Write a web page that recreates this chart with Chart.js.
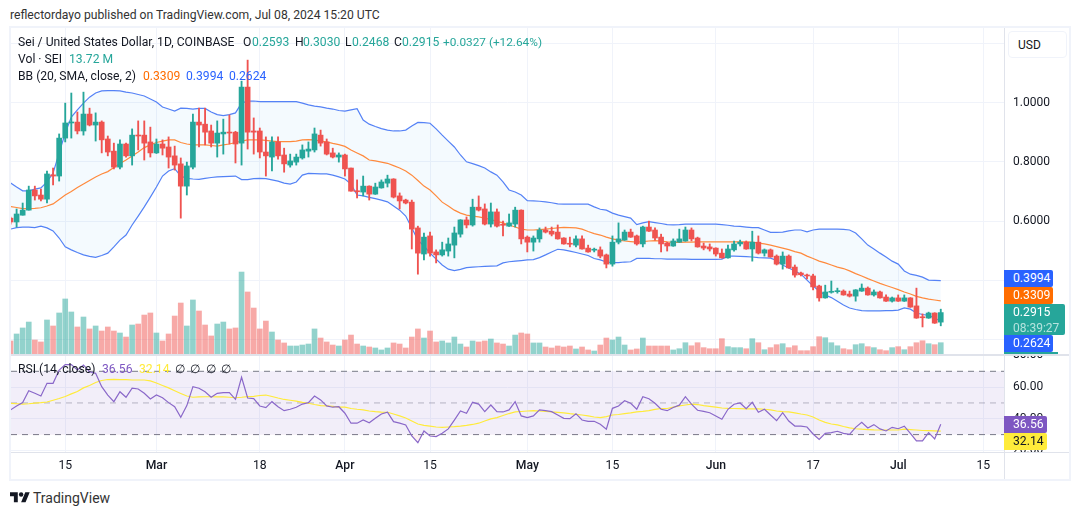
<!DOCTYPE html>
<html>
<head>
<meta charset="utf-8">
<title>SEI / USD</title>
<script src="https://cdn.jsdelivr.net/npm/chart.js@4"></script>
<style>
  html, body { margin: 0; padding: 0; background: #fff; width: 1080px; height: 515px; overflow: hidden; }
  body { font-family: Roboto, sans-serif; color: #131722; }
  .abs { position: absolute; white-space: nowrap; }
  canvas { position: absolute; display: block; }
  .txt { position: absolute; white-space: nowrap; font-size: 12.15px; line-height: 14px; }
  .tag { position: absolute; left: 1004px; width: 49px; height: 17px; line-height: 17px; font-size: 12.2px; color: #fff; text-align: left; text-indent: 9px; border-radius: 0 2px 2px 0; }
</style>
</head>
<body>
<div class="txt" style="left:10px;top:8px;font-size:12.17px;color:#333">reflectordayo published on TradingView.com, Jul 08, 2024 15:20 UTC</div>

<div class="abs" style="left:9px;top:26px;width:1058px;height:451px;border:2px solid #f0f3fa"></div>
<canvas id="pricePane" width="1058" height="326" style="left:11px;top:28px"></canvas>
<canvas id="rsiPane" width="1058" height="124" style="left:11px;top:355px"></canvas>

<!-- axis separators -->
<div class="abs" style="left:11px;top:354px;width:1058px;height:1.5px;background:#e0e3eb"></div>
<div class="abs" style="left:1005px;top:452.5px;width:64px;height:26px;background:#fff"></div>
<div class="abs" style="left:11px;top:452px;width:1058px;height:1px;background:#e0e3eb"></div>
<div class="abs" style="left:1004px;top:28px;width:1px;height:451px;background:#e0e3eb"></div>

<!-- currency button -->
<div class="txt" style="left:1008px;top:31px;width:57px;height:25px;background:#fff;border:1px solid #f0f3fa;border-radius:4px;line-height:26px;text-indent:9px;font-size:12px">USD</div>

<!-- legend -->
<div id="legend"></div>

<!-- last value tags -->
<div id="tags"></div>

<!-- footer -->
<svg class="abs" style="left:10px;top:492px" width="20" height="11" viewBox="0 0 36 18.5"><path fill="#131722" d="M14 18H7V7H0V0h14v18zM28 18h-8L27.5 0h8L28 18z"/><circle fill="#131722" cx="20" cy="4" r="4"/></svg>
<div class="txt" style="left:33px;top:490px;font-size:14px;line-height:16px;color:#333">TradingView</div>

<script>
// Daily SEI/USD candles, first session Feb 6 2024, last session Jul 8 2024
const opens = [
  .610,.597,.620,.637,.705,.688,.674,.756,.752,.880,
  .931,.934,.904,.961,.924,.934,.877,.836,.782,.860,
  .820,.890,.890,.867,.830,.860,.850,.820,.793,.718,
  .782,.934,.927,.904,.863,.894,.900,.900,.863,1.052,
  .904,.904,.833,.816,.867,.823,.789,.799,.813,.836,
  .840,.890,.867,.830,.816,.823,.779,.702,.698,.718,
  .691,.712,.728,.742,.685,.671,.664,.577,.489,.550,
  .496,.486,.499,.519,.556,.604,.587,.647,.641,.590,
  .631,.588,.583,.590,.637,.546,.529,.540,.570,.566,
  .563,.543,.524,.519,.540,.509,.502,.503,.486,.455,
  .529,.536,.563,.550,.523,.580,.570,.546,.526,.516,
  .529,.533,.570,.543,.516,.513,.509,.492,.476,.503,
  .523,.529,.506,.529,.492,.503,.482,.455,.482,.445,
  .425,.418,.415,.381,.341,.360,.362,.364,.354,.347,
  .364,.374,.351,.361,.344,.330,.341,.330,.341,.314,
  .276,.273,.290,.2593];
const highs = [
  .614,.641,.661,.718,.718,.708,.769,.779,.894,.998,
  1.032,.968,1.035,.981,.965,.938,.887,.863,.874,.863,
  .911,.938,.938,.917,.877,.874,.884,.853,.813,.799,
  .961,.981,.981,.924,.938,.944,.958,.903,1.072,1.143,
  .948,.914,.884,.884,.884,.846,.826,.826,.857,.867,
  .914,.907,.877,.846,.830,.826,.779,.739,.752,.719,
  .728,.739,.755,.743,.695,.674,.671,.583,.560,.563,
  .503,.529,.543,.580,.605,.614,.674,.685,.658,.661,
  .641,.600,.624,.647,.638,.550,.550,.577,.580,.580,
  .587,.544,.546,.550,.550,.519,.509,.513,.489,.550,
  .594,.570,.573,.553,.583,.600,.577,.556,.529,.540,
  .573,.580,.577,.546,.526,.523,.510,.506,.519,.533,
  .536,.533,.566,.550,.506,.506,.486,.496,.486,.452,
  .428,.421,.421,.384,.384,.398,.374,.368,.364,.369,
  .388,.378,.368,.364,.351,.344,.351,.351,.342,.374,
  .287,.293,.291,.3030];
const lows = [
  .590,.580,.620,.637,.671,.668,.661,.722,.735,.867,
  .880,.894,.890,.921,.870,.830,.820,.776,.776,.816,
  .789,.840,.806,.816,.828,.823,.779,.772,.610,.688,
  .776,.850,.857,.850,.816,.826,.860,.796,.789,.843,
  .826,.813,.752,.769,.809,.765,.782,.789,.809,.816,
  .833,.853,.823,.813,.799,.752,.701,.678,.685,.671,
  .690,.711,.715,.678,.641,.658,.506,.421,.469,.482,
  .459,.482,.482,.476,.546,.577,.583,.634,.587,.580,
  .580,.550,.582,.580,.523,.496,.499,.529,.560,.550,
  .539,.522,.513,.513,.505,.495,.496,.476,.442,.448,
  .523,.535,.545,.519,.513,.565,.536,.496,.499,.515,
  .528,.532,.533,.512,.503,.499,.482,.475,.475,.499,
  .516,.505,.465,.489,.482,.478,.452,.438,.441,.411,
  .415,.405,.368,.330,.340,.357,.357,.350,.344,.330,
  .363,.350,.347,.340,.329,.327,.329,.329,.309,.272,
  .243,.272,.255,.2468];
const closes = [
  .597,.624,.637,.705,.685,.674,.759,.752,.880,.931,
  .934,.904,.961,.924,.934,.874,.833,.782,.860,.820,
  .890,.887,.863,.830,.860,.846,.816,.789,.718,.786,
  .934,.924,.900,.863,.897,.900,.897,.860,1.052,.900,
  .900,.833,.820,.867,.820,.793,.803,.816,.840,.843,
  .894,.863,.826,.816,.823,.776,.701,.699,.718,.691,
  .715,.732,.742,.681,.668,.661,.573,.492,.546,.492,
  .486,.503,.523,.560,.604,.587,.647,.637,.590,.631,
  .583,.586,.594,.637,.540,.529,.543,.570,.563,.556,
  .540,.523,.522,.540,.506,.496,.504,.482,.455,.529,
  .540,.563,.546,.523,.580,.566,.543,.523,.516,.533,
  .540,.570,.540,.513,.509,.506,.489,.476,.506,.523,
  .529,.506,.529,.492,.503,.479,.455,.482,.442,.418,
  .419,.415,.378,.341,.361,.362,.364,.351,.347,.368,
  .374,.351,.361,.341,.330,.341,.330,.341,.310,.273,
  .274,.290,.256,.2915];

// Traded volume, millions of SEI
const volumes = [
  15.8,24.3,31.6,38.8,17,14.6,41.3,34,49.8,66.8,
  51,32.8,44.9,30.4,34,27.9,32.8,27.9,25.5,20.6,
  35.2,36.4,47.3,49.8,25.5,15.8,24.3,46.1,61.9,34,
  65.6,52.2,35.2,21.9,36.4,38.8,30.4,31.6,99.5,75.3,
  55.8,30.4,40,26.7,17,13.4,9.7,9.7,10.9,12.1,
  30.4,19.4,14.6,10.9,9.7,17,23,12.1,9.7,8.5,
  7.3,4.9,7.3,13.4,12.1,7.3,20.6,30.4,19.4,27.9,
  14.6,15.8,13.4,20.6,12.1,8.5,15.8,14.6,15.8,18.2,
  13.4,12.1,9.7,23,25.5,24.3,13.4,13.4,8.5,7.3,
  9.7,8.5,9.7,6.1,8.5,4.9,3.6,10.9,19.4,17,
  20.6,10.9,4.9,6.1,19.4,9.7,9.7,9.7,9.7,4.9,
  6.4,13.7,10,13.7,7.7,6.4,6.4,18.6,8.9,7.7,
  7.7,6.4,18.6,13.7,5.2,7.7,11.3,12.5,7.7,10,
  4,4,8.9,21,19.8,13.7,10,6.4,5.2,11.3,
  12.5,8.9,7.7,5.2,4,7.7,8.9,5.2,8.9,13.7,
  16.1,12.5,11.3,13.72];

// Bollinger bands (20, SMA, close, 2)
const bbUpper = [
  .729,.715,.702,.702,.708,.712,.732,.762,.830,.897,
  .951,.975,.998,1.018,1.032,1.039,1.040,1.040,1.039,1.035,
  1.032,1.027,1.022,1.012,1.002,.985,.978,.971,.981,.980,
  .978,.980,.980,.968,.959,.956,.959,.965,.998,1.005,
  1.005,1.003,1.003,1.003,1.003,1.003,1.003,1.003,.998,.992,
  .988,.985,.981,.978,.973,.971,.975,.979,.941,.927,
  .919,.912,.907,.904,.904,.907,.921,.933,.932,.930,
  .911,.890,.870,.850,.823,.800,.794,.787,.779,.766,
  .755,.732,.705,.698,.688,.669,.668,.667,.665,.662,
  .658,.657,.657,.657,.657,.657,.648,.640,.637,.627,
  .620,.615,.610,.588,.594,.598,.595,.592,.588,.587,
  .588,.590,.590,.590,.590,.590,.590,.588,.586,.583,
  .582,.580,.578,.578,.570,.562,.562,.563,.567,.570,
  .570,.564,.570,.573,.573,.573,.573,.572,.570,.560,
  .540,.519,.506,.492,.479,.465,.455,.432,.421,.417,
  .411,.401,.400,.3994];
const bbBasis = [
  .649,.646,.642,.642,.643,.645,.651,.658,.673,.688,
  .700,.713,.725,.737,.749,.759,.767,.781,.794,.806,
  .820,.833,.848,.857,.865,.870,.874,.874,.865,.860,
  .857,.857,.857,.855,.853,.857,.860,.865,.870,.874,
  .874,.874,.872,.870,.868,.868,.868,.870,.874,.875,
  .874,.870,.867,.862,.858,.852,.840,.830,.820,.806,
  .803,.799,.795,.787,.779,.769,.755,.737,.718,.705,
  .685,.664,.651,.637,.627,.620,.617,.614,.610,.605,
  .599,.594,.587,.580,.573,.570,.570,.571,.573,.575,
  .577,.579,.578,.577,.573,.565,.558,.553,.546,.540,
  .536,.533,.531,.529,.531,.533,.534,.533,.530,.528,
  .528,.529,.529,.530,.530,.530,.530,.530,.530,.530,
  .530,.530,.529,.526,.523,.519,.514,.509,.504,.497,
  .492,.482,.474,.465,.459,.452,.445,.440,.432,.423,
  .415,.406,.398,.390,.383,.376,.369,.361,.354,.346,
  .341,.337,.334,.3309];
const bbLower = [
  .573,.578,.580,.580,.578,.583,.577,.567,.543,.513,
  .503,.494,.486,.481,.478,.484,.492,.513,.536,.553,
  .587,.617,.648,.681,.715,.752,.769,.777,.752,.744,
  .742,.741,.744,.747,.749,.750,.751,.752,.740,.740,
  .743,.744,.743,.739,.735,.728,.725,.732,.755,.761,
  .760,.759,.759,.755,.749,.742,.725,.688,.685,.680,
  .676,.671,.665,.651,.637,.617,.577,.536,.516,.492,
  .472,.452,.438,.433,.437,.443,.445,.446,.447,.448,
  .449,.459,.463,.465,.467,.469,.470,.477,.486,.496,
  .505,.503,.499,.494,.489,.484,.474,.469,.462,.460,
  .460,.462,.463,.474,.474,.474,.473,.473,.472,.472,
  .472,.472,.471,.471,.471,.471,.471,.472,.482,.482,
  .481,.480,.479,.477,.476,.475,.467,.452,.442,.432,
  .421,.401,.381,.364,.351,.342,.330,.317,.307,.302,
  .298,.297,.297,.297,.298,.298,.300,.307,.303,.290,
  .285,.282,.273,.2624];

// RSI (14, close) and its moving average
const rsiValues = [
  45.6,48.1,50.2,57.7,56.1,54.4,62.4,62.4,70.8,74.2,
  74.2,70.8,74,69.7,68.7,60.3,55,50.8,57.1,53.6,
  59.3,58.8,56.1,52.5,55,53.3,50.2,47.6,40.9,48.3,
  60.3,59.3,57.1,53.6,56.1,56.5,56.5,52.3,66.2,53.1,
  52.7,48.1,47,50.8,47.6,45.1,46,47.3,49.3,50.2,
  54.4,51.9,48.1,47.3,47.6,43.5,37.2,37.2,39.2,37.5,
  40.3,43,44.1,38.2,37.2,36.1,29.1,24.9,32.3,29.1,
  28.7,30.8,33.6,39.2,44.9,43.5,50.4,49.3,44.5,48.7,
  44.5,44.3,45.6,50.8,41.8,40.7,41.8,45.6,45.1,44.5,
  42.4,40.3,40.1,43.2,39.2,38.4,38.4,36.5,33.4,46.6,
  48.1,51.4,49.8,46,54,52.7,49.8,46,45.1,47.1,
  48.6,54,49.3,45.4,44.7,43.8,41.8,39.7,46,49.2,
  50,46.4,50.4,44.1,46,42.4,38.8,43.8,38.6,35.4,
  35.3,34.8,30.4,27,30.8,31.2,32.1,30.8,30.2,34.6,
  37.8,34.2,36.3,33.6,32.3,34.6,33.7,35.3,30.8,26,
  26,31.2,27.2,36.56];
const rsiAverage = [
  49.8,49.5,49.2,49.5,49.9,50.2,50.6,51.7,52.8,54.1,
  55.7,57.2,59.5,61,62.9,64.2,64.8,64.9,64.8,64.7,
  64.5,64.5,64.5,63.9,62.6,61,59.5,57.7,56,54.4,
  53.6,53.8,53.9,53.9,53.8,53.8,53.6,53.3,53.6,54,
  54.2,54.7,55,54.1,53.1,52.2,51.7,51.2,50.4,49.8,
  49,48.3,48.1,47.8,47.4,47.3,46.5,46,45.6,44.9,
  44.5,44.2,44.1,43,41.8,40.5,38.6,36.7,35.8,35.4,
  34.8,34.6,34.8,35,35.3,35.8,36.4,37.2,38.6,39.9,
  40.7,42.1,43.3,44.3,44.6,44.9,45.1,44.9,44.6,44.3,
  44.1,43.7,43.2,42.8,42.4,41.8,41.1,40.7,41.4,42.4,
  42.7,43.2,43.7,44.3,44.7,45.2,45.9,46.5,46.5,47.4,
  48.1,48.7,49.3,49,48.3,47.8,47.3,46.8,46.6,46.5,
  46.4,46.3,46.2,46.2,46,45.6,44.9,44.5,44.3,43.7,
  43,42.4,41.1,39.2,37.7,36.7,36.1,35.1,34.2,33.7,
  33.4,33.2,33,32.9,32.9,32.9,32.9,33.4,33.2,32.9,
  32.6,32.5,32.3,32.14];

// Session numbers of the time axis marks, counted from Feb 6
const timeTickSessions = [9, 24, 41, 55, 69, 85, 99, 116, 132, 146, 160];
const timeTickLabels = ['15', 'Mar', '18', 'Apr', '15', 'May', '15', 'Jun', '17', 'Jul', '15'];
const monthLabels = ['Mar', 'Apr', 'May', 'Jun', 'Jul'];
const priceTicks = [1.2, 1.0, 0.8, 0.6, 0.4, 0.2];
const rsiTicks = [80, 60, 40, 20];

const UP = '#26a69a', DOWN = '#ef5350';
const UP_VOL = 'rgba(38,166,154,0.5)', DOWN_VOL = 'rgba(239,83,80,0.5)';
const GRID = '#f0f3fa';
const AXIS_WIDTH = 65;
const X_MIN = 0.08, X_MAX = 163.4;

const isUp = closes.map((c, i) => c >= opens[i]);
const series = arr => arr.map((y, x) => ({ x, y }));

// Axis sizes are fixed, so label overhang must not shrink the plot area
function pinAxis(s, size) {
  if (s.isHorizontal()) s.height = size; else s.width = size;
  s.paddingTop = s.paddingBottom = s.paddingLeft = s.paddingRight = 0;
}

function timeScale(showLabels, height) {
  return {
    type: 'linear', min: X_MIN, max: X_MAX, offset: false,
    border: { display: false },
    grid: { color: GRID, lineWidth: 1, drawTicks: false, offset: false },
    afterBuildTicks: s => { s.ticks = timeTickSessions.map(value => ({ value })); },
    afterFit: s => pinAxis(s, height),
    ticks: {
      display: showLabels, autoSkip: false, maxRotation: 0, padding: 7,
      color: '#131722',
      font: ctx => ({ family: 'Roboto', size: 12.2,
        weight: monthLabels.includes(timeTickLabels[ctx.index]) ? '500' : '400' }),
      callback: (v, i) => timeTickLabels[i]
    }
  };
}

function valueScale(min, max, tickValues, digits) {
  return {
    type: 'linear', position: 'right', min, max, offset: false, beginAtZero: false,
    border: { display: false },
    grid: { color: GRID, lineWidth: 1, drawTicks: false },
    afterBuildTicks: s => { s.ticks = tickValues.map(value => ({ value })); },
    afterFit: s => pinAxis(s, AXIS_WIDTH),
    ticks: {
      color: '#131722', padding: 9, autoSkip: false,
      font: { family: 'Roboto', size: 12 },
      callback: v => v.toFixed(digits)
    }
  };
}

const common = {
  responsive: false, animation: false, devicePixelRatio: 1,
  layout: { padding: 0, autoPadding: false },
  plugins: { legend: { display: false }, tooltip: { enabled: false } },
  events: []
};

const bandLine = color => ({
  type: 'line', borderColor: color, borderWidth: 1.2, pointRadius: 0, tension: 0,
  yAxisID: 'y'
});

new Chart(document.getElementById('pricePane'), {
  data: { datasets: [
    { type: 'bar', label: 'Body', order: 1, grouped: false, barThickness: 5, minBarLength: 1,
      borderWidth: 0, yAxisID: 'y',
      data: opens.map((o, x) => ({ x, y: [o, closes[x]] })),
      backgroundColor: isUp.map(u => u ? UP : DOWN) },
    { type: 'bar', label: 'Wick', order: 2, grouped: false, barThickness: 1.2,
      borderWidth: 0, yAxisID: 'y',
      data: lows.map((l, x) => ({ x, y: [l, highs[x]] })),
      backgroundColor: isUp.map(u => u ? UP : DOWN) },
    Object.assign(bandLine('#FF6D00'), { label: 'Basis', order: 3, data: series(bbBasis), borderColor: '#ff8a3d' }),
    Object.assign(bandLine('#5582f6'), { label: 'Upper', order: 4, data: series(bbUpper),
      fill: '+1', backgroundColor: 'rgba(33,150,243,0.05)' }),
    Object.assign(bandLine('#5582f6'), { label: 'Lower', order: 5, data: series(bbLower) }),
    { type: 'bar', label: 'Volume', order: 6, grouped: false, barThickness: 5,
      borderWidth: 0, yAxisID: 'vol',
      data: series(volumes),
      backgroundColor: isUp.map(u => u ? UP_VOL : DOWN_VOL) }
  ] },
  options: Object.assign({}, common, { scales: {
    x: timeScale(false, 0),
    y: valueScale(0.1518, 1.2513, priceTicks, 4),
    vol: { type: 'linear', axis: 'y', display: false, offset: false, min: 0, max: 395.8 }
  } })
});

const levelLine = (value, color, dash, extra) => Object.assign({
  type: 'line', data: [{ x: X_MIN, y: value }, { x: X_MAX, y: value }],
  borderColor: color, borderWidth: 1, borderDash: dash, pointRadius: 0
}, extra || {});

new Chart(document.getElementById('rsiPane'), {
  data: { datasets: [
    Object.assign(bandLine('#8a68c9'), { label: 'RSI', order: 1, data: series(rsiValues), borderWidth: 1.2,
      fill: { value: 30, above: 'rgba(0,0,0,0)', below: 'rgba(239,83,80,0.08)' } }),
    Object.assign(bandLine('#FFEB3B'), { label: 'RSI average', order: 2, data: series(rsiAverage) }),
    levelLine(70, '#787b86', [6, 5], { order: 3, fill: '+2', backgroundColor: 'rgba(126,87,194,0.1)' }),
    levelLine(50, 'rgba(120,123,134,0.5)', [6, 5], { order: 4 }),
    levelLine(30, '#787b86', [6, 5], { order: 5 })
  ] },
  options: Object.assign({}, common, { scales: {
    x: timeScale(true, 27),
    y: valueScale(19.0, 80.3, rsiTicks, 2)
  } })
});

// Legend rows above the panes
const green = UP, orange = '#FF6D00', blue = '#2962FF', purple = '#7E57C2', yellow = '#FFEB3B';
const legendItems = [
  [18, 35, 'Sei / United States Dollar, 1D, COINBASE', '#131722'],
  [243, 35, 'O', '#131722'], [252, 35, opens[153].toFixed(4), green],
  [295, 35, 'H', '#131722'], [303, 35, highs[153].toFixed(4), green],
  [345, 35, 'L', '#131722'], [352, 35, lows[153].toFixed(4), green],
  [394, 35, 'C', '#131722'], [402, 35, closes[153].toFixed(4), green],
  [443, 35, '+0.0327 (+12.64%)', green, 11.8],
  [18, 52, 'Vol · SEI', '#131722'], [69, 52, '13.72 M', green],
  [18, 69, 'BB (20, SMA, close, 2)', '#131722'],
  [143, 69, bbBasis[153].toFixed(4), orange],
  [186, 69, bbUpper[153].toFixed(4), blue],
  [229, 69, bbLower[153].toFixed(4), blue],
  [18, 362, 'RSI (14, close)', '#131722'],
  [102, 362, rsiValues[153].toFixed(2), purple],
  [139, 362, rsiAverage[153].toFixed(2), yellow],
  [175, 362, '∅', '#131722'], [190, 362, '∅', '#131722'],
  [206, 362, '∅', '#131722'], [221, 362, '∅', '#131722']
];
document.getElementById('legend').innerHTML = legendItems.map(([l, t, s, c, f]) =>
  `<div class="txt" style="left:${l}px;top:${t}px;color:${c}${f ? ';font-size:' + f + 'px' : ''}">${s}</div>`).join('');

// Last value tags on the right axis
const tagItems = [
  [270, bbUpper[153].toFixed(4), blue, '#fff'],
  [287, bbBasis[153].toFixed(4), orange, '#fff'],
  [335, bbLower[153].toFixed(4), blue, '#fff'],
  [416, rsiValues[153].toFixed(2), purple, '#fff', 43],
  [433, rsiAverage[153].toFixed(2), yellow, '#131722', 43]
];
document.getElementById('tags').innerHTML = tagItems.map(([t, s, bg, fg, w]) =>
  `<div class="tag" style="top:${t}px;background:${bg};color:${fg};${w ? 'width:' + w + 'px' : ''}">${s}</div>`).join('') +
  `<div class="tag" style="top:304px;width:61px;height:31px;background:${green};line-height:16px">` +
  `<div>${closes[153].toFixed(4)}</div><div style="font-size:12px;color:#b5e3de">08:39:27</div></div>` +
  `<div class="abs" style="left:1004px;top:352px;width:54px;height:2px;background:${green}"></div>`;
</script>
</body>
</html>
